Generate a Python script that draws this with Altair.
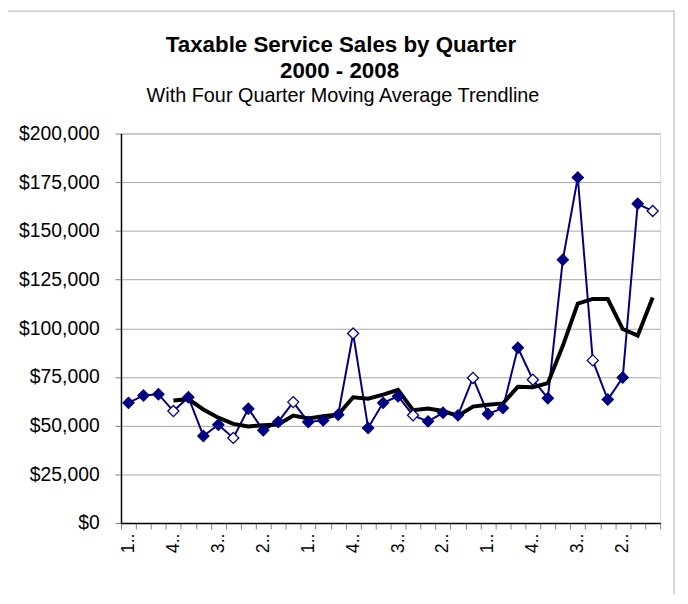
import altair as alt
import pandas as pd

years = [2000, 2001, 2002, 2003, 2004, 2005, 2006, 2007, 2008]
quarter_names = ["1st Qtr", "2nd Qtr", "3rd Qtr", "4th Qtr"]
quarters = [f"{q} {y}" for y in years for q in quarter_names]

sales = [61700, 65500, 66150, 57500, 64600, 44700, 50500, 43700, 58700,
         47600, 51900, 62100, 51900, 52700, 55600, 97300, 48800, 61700,
         65100, 55300, 52200, 56600, 55300, 74500, 56000, 59000, 90000,
         73600, 64100, 135200, 177400, 83500, 63400, 74700, 163900, 160200]

moving_avg = [None, None, None, 62900, 63600, 58300, 54100, 50900, 49600,
              50200, 50600, 55200, 53700, 54800, 55700, 64600, 63800, 65900,
              68400, 57900, 58800, 57500, 55000, 59800, 60700, 61400, 70000,
              69700, 71800, 91000, 112700, 115100, 115000, 99600, 96200, 115800]

y_ticks = [0, 25000, 50000, 75000, 100000, 125000, 150000, 175000, 200000]

title_lines = ["Taxable Service Sales by Quarter", "2000 - 2008"]
subtitle_text = "With Four Quarter Moving Average Trendline"

df = pd.DataFrame({
    "quarter": quarters,
    "sales": sales,
    "ma": moving_avg,
    "q": [int(s[0]) for s in quarters],
})

FONT = "Liberation Sans"
NAVY = "#000080"
W, H = 544, 393

x_enc = alt.X(
    "quarter:N",
    sort=quarters,
    scale=alt.Scale(type="band", paddingInner=0, paddingOuter=0),
    axis=alt.Axis(
        title=None,
        tickBand="extent",
        labelAngle=270,
        labelExpr="round(datum.index * 35) % 3 == 0 ? substring(datum.label, 0, 1) + '..' : ''",
        labelFontSize=18,
        labelPadding=4,
        tickSize=6,
        tickColor="#808080",
        domainColor="black",
        domainWidth=1.5,
        labelColor="black",
        labelFont=FONT,
        grid=False,
    ),
)

y_scale = alt.Scale(domain=[0, 200000], nice=False)
y_axis = alt.Axis(
    title=None,
    values=y_ticks,
    format="$,.0f",
    labelFontSize=19.5,
    labelFont=FONT,
    labelColor="black",
    labelPadding=16,
    tickSize=6,
    tickColor="#808080",
    domainColor="black",
    domainWidth=1.5,
    grid=True,
    gridColor="#a6a6a6",
    gridWidth=1,
)

base = alt.Chart(df).encode(x=x_enc)

sales_line = base.mark_line(color=NAVY, strokeWidth=2).encode(
    y=alt.Y("sales:Q", scale=y_scale, axis=y_axis)
)

ma_line = base.mark_line(color="black", strokeWidth=4).encode(
    y=alt.Y("ma:Q", scale=y_scale)
)

points = base.mark_point(
    shape="diamond", filled=True, size=125, stroke=NAVY, strokeWidth=1.3, opacity=1
).encode(
    y=alt.Y("sales:Q", scale=y_scale),
    fill=alt.condition(alt.datum.q == 4, alt.value("white"), alt.value(NAVY)),
)

one = alt.Data(values=[{"k": 1}])

title1 = alt.Chart(one).mark_text(
    font=FONT, fontSize=22.5, fontWeight="bold", color="black", align="center", baseline="alphabetic"
).encode(x=alt.value(222), y=alt.value(-82), text=alt.value(title_lines[0]))

title2 = alt.Chart(one).mark_text(
    font=FONT, fontSize=22.5, fontWeight="bold", color="black", align="center", baseline="alphabetic"
).encode(x=alt.value(220.5), y=alt.value(-56.5), text=alt.value(title_lines[1]))

subtitle = alt.Chart(one).mark_text(
    font=FONT, fontSize=20, color="black", align="center", baseline="alphabetic"
).encode(x=alt.value(224), y=alt.value(-32), text=alt.value(subtitle_text))

outer_top = alt.Chart(one).mark_rule(color="#b0b0b0", strokeWidth=1).encode(
    x=alt.value(-114), x2=alt.value(558), y=alt.value(-123.5)
)
outer_right = alt.Chart(one).mark_rule(color="#b0b0b0", strokeWidth=1).encode(
    x=alt.value(558), y=alt.value(-124), y2=alt.value(H + 72)
)

chart = alt.layer(
    sales_line, ma_line, points, title1, title2, subtitle, outer_top, outer_right
).properties(
    width=W,
    height=H,
    autosize=alt.AutoSizeParams(type="none"),
    padding={"left": 114, "top": 124, "right": 20, "bottom": 72},
).configure_view(
    stroke="#808080", strokeWidth=2
).configure(
    background="white"
)

chart.save("out.html", embed_options={"renderer": "svg", "actions": False})
